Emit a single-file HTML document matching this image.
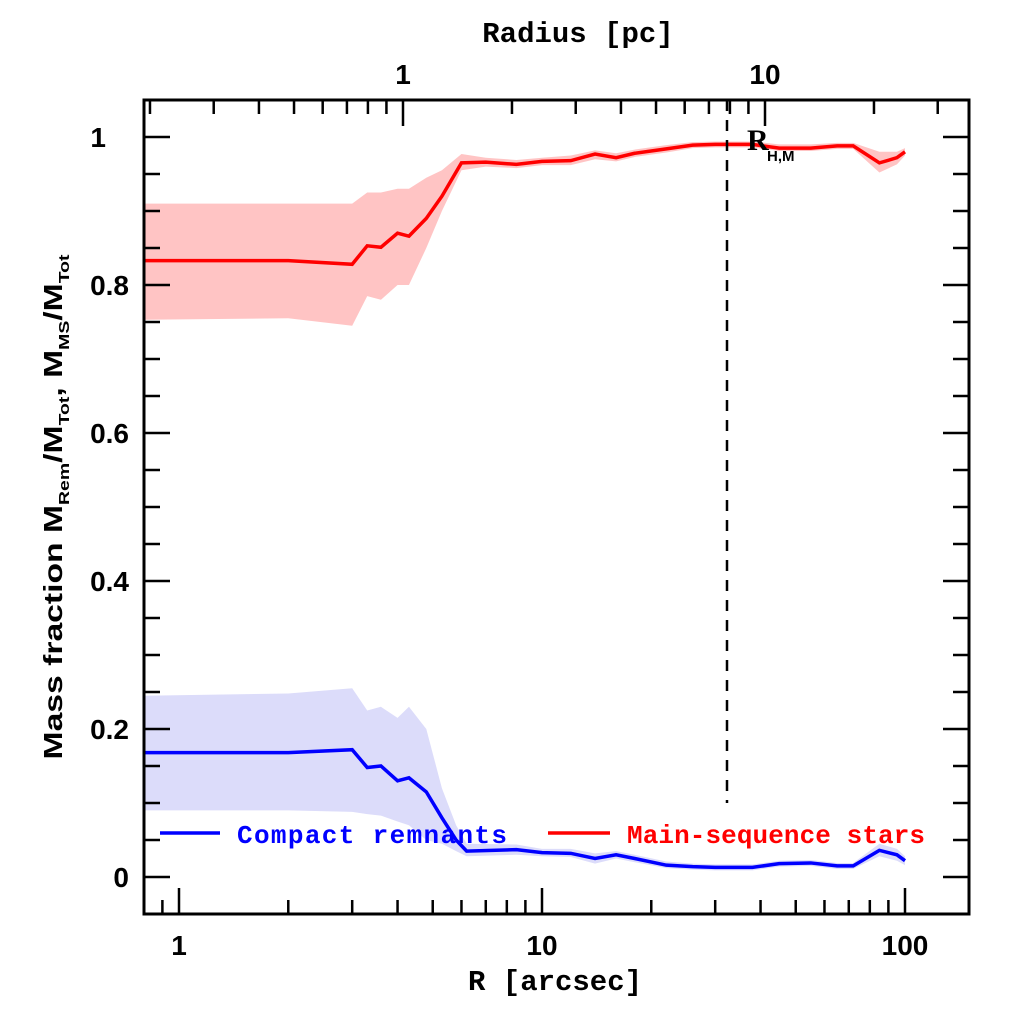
<!DOCTYPE html>
<html><head><meta charset="utf-8"><style>
html,body{margin:0;padding:0;background:#fff;}
svg{display:block;}
.t{font-family:"Liberation Mono",monospace;font-weight:bold;}
.s{font-family:"Liberation Sans",sans-serif;font-weight:bold;}
</style></head><body>
<svg id="c" width="1024" height="1024" viewBox="0 0 1024 1024" xmlns="http://www.w3.org/2000/svg">
<g id="fills"></g>
<g id="lines"></g>
<line x1="727" y1="100" x2="727" y2="803" stroke="#000" stroke-width="2.5" stroke-dasharray="11,9"/>
<text x="747" y="150" font-family="Liberation Serif,serif" font-size="30" font-weight="bold">R</text>
<text x="767" y="161" class="s" font-size="15">H,M</text>
<rect x="144" y="100" width="825" height="814" fill="none" stroke="#000" stroke-width="3"/>
<g id="ticks" stroke="#000" stroke-width="2.5"></g>
<line x1="160" y1="833" x2="220" y2="833" stroke="#00f" stroke-width="3.5"/>
<text x="237" y="843" class="t" font-size="26" fill="#00f" textLength="270">Compact remnants</text>
<line x1="548" y1="833" x2="610" y2="833" stroke="#f00" stroke-width="3.5"/>
<text x="627" y="843" class="t" font-size="26" fill="#f00" textLength="298">Main-sequence stars</text>
<g class="s" font-size="28" text-anchor="middle">
<text x="179" y="955">1</text><text x="542" y="955">10</text><text x="905" y="955">100</text>
<text x="403" y="84">1</text><text x="765" y="84">10</text>
</g>
<g class="s" font-size="28" text-anchor="end">
<text x="106" y="147">1</text><text x="129" y="295">0.8</text><text x="129" y="443">0.6</text>
<text x="129" y="591">0.4</text><text x="129" y="739">0.2</text><text x="129" y="887">0</text>
</g>
<text x="555" y="990" class="t" font-size="29" text-anchor="middle">R [arcsec]</text>
<text x="578" y="42" class="t" font-size="29" text-anchor="middle">Radius [pc]</text>
<g transform="translate(62,507) rotate(-90)" class="s" font-size="26" text-anchor="middle">
<text x="0" y="0" textLength="505" lengthAdjust="spacingAndGlyphs">Mass fraction   M<tspan font-size="15" dy="7">Rem</tspan><tspan dy="-7">/M</tspan><tspan font-size="15" dy="7">Tot</tspan><tspan dy="-7">,  M</tspan><tspan font-size="15" dy="7">MS</tspan><tspan dy="-7">/M</tspan><tspan font-size="15" dy="7">Tot</tspan></text>
</g>
</svg>
<script>
const X=r=>179+363*Math.log10(r), Y=v=>877-740*v;
const ns="http://www.w3.org/2000/svg";
function el(p,t,a){const e=document.createElementNS(ns,t);for(const k in a)e.setAttribute(k,a[k]);document.getElementById(p).appendChild(e);}
const red=[[0.8,0.833,0.753,0.91],[2,0.833,0.755,0.91],[3,0.828,0.745,0.91],[3.3,0.853,0.785,0.925],[3.6,0.851,0.78,0.925],[4,0.87,0.80,0.93],[4.3,0.866,0.80,0.93],[4.8,0.89,0.85,0.945],[5.3,0.92,0.90,0.955],[6,0.965,0.955,0.977],[7,0.966,0.96,0.972],[8.5,0.963,0.958,0.969],[10,0.967,0.962,0.972],[12,0.968,0.962,0.975],[14,0.977,0.97,0.982],[16,0.972,0.967,0.978],[18,0.978,0.973,0.983],[22,0.984,0.979,0.989],[26,0.989,0.985,0.993],[30,0.99,0.986,0.994],[38,0.99,0.986,0.994],[45,0.985,0.981,0.99],[55,0.985,0.981,0.99],[65,0.988,0.984,0.992],[72,0.988,0.984,0.992],[85,0.965,0.952,0.98],[95,0.972,0.963,0.98],[100,0.98,0.975,0.985]];
const blue=[[0.8,0.168,0.09,0.245],[2,0.168,0.09,0.248],[3,0.172,0.088,0.255],[3.3,0.148,0.085,0.225],[3.6,0.15,0.083,0.23],[4,0.13,0.075,0.215],[4.3,0.134,0.07,0.23],[4.8,0.115,0.05,0.2],[5.3,0.08,0.045,0.12],[5.8,0.05,0.035,0.07],[6.2,0.035,0.028,0.045],[8.5,0.037,0.03,0.044],[10,0.033,0.028,0.038],[12,0.032,0.027,0.038],[14,0.025,0.018,0.032],[16,0.03,0.025,0.035],[18,0.025,0.02,0.03],[22,0.016,0.012,0.021],[26,0.014,0.01,0.018],[30,0.013,0.009,0.017],[38,0.013,0.009,0.017],[45,0.018,0.014,0.022],[55,0.019,0.015,0.023],[65,0.015,0.011,0.019],[72,0.015,0.011,0.019],[85,0.036,0.028,0.045],[95,0.03,0.022,0.038],[100,0.022,0.016,0.028]];
function draw(d,fc,lc){
 let up=d.map(p=>X(p[0])+','+Y(p[3])), lo=d.slice().reverse().map(p=>X(p[0])+','+Y(p[2]));
 el('fills','polygon',{points:up.concat(lo).join(' '),fill:fc});
 el('lines','polyline',{points:d.map(p=>X(p[0])+','+Y(p[1])).join(' '),fill:'none',stroke:lc,'stroke-width':3.5});
}
draw(red,'#ffc4c4','#f00');draw(blue,'#dcdcfa','#00f');
for(let d=0;d<3;d++)for(let k=1;k<10;k++){const r=k*Math.pow(10,d);if(r<0.8||r>150)continue;const x=X(r),L=k==1?26:14;el('ticks','line',{x1:x,y1:914,x2:x,y2:914-L});}
el('ticks','line',{x1:X(0.9),y1:914,x2:X(0.9),y2:900});
const P=r=>403+362*Math.log10(r);
for(let d=-1;d<2;d++)for(let k=1;k<10;k++){const r=k*Math.pow(10,d);const x=P(r);if(x<145||x>968)continue;const L=k==1?26:14;el('ticks','line',{x1:x,y1:100,x2:x,y2:100+L});}
for(let i=0;i<=21;i++){const v=i*0.05;const y=Y(v);if(y<100||y>914)continue;const L=(i%4==0)?26:16;el('ticks','line',{x1:144,y1:y,x2:144+L,y2:y});el('ticks','line',{x1:969,y1:y,x2:969-L,y2:y});}
</script>
</body></html>
